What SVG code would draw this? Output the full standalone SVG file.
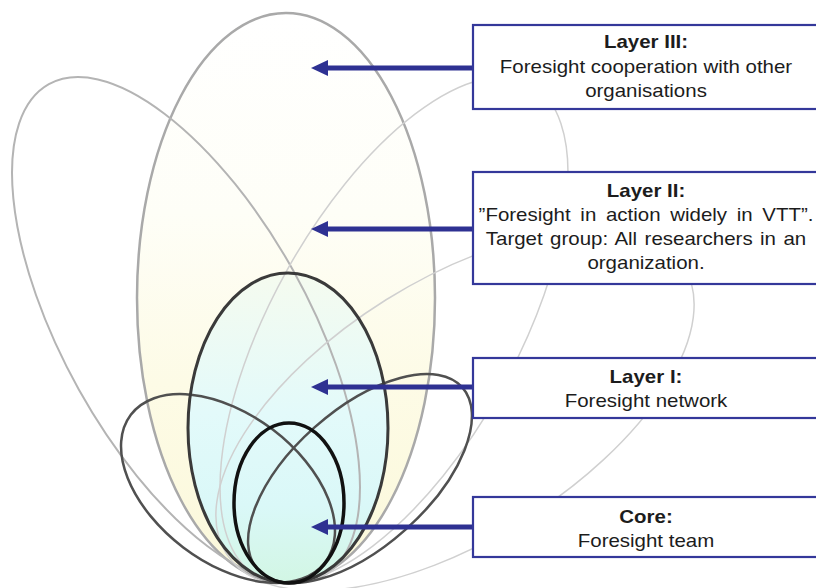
<svg xmlns="http://www.w3.org/2000/svg" width="816" height="588" viewBox="0 0 816 588">
<defs>
<linearGradient id="gIII" gradientUnits="userSpaceOnUse" x1="0" y1="13" x2="0" y2="583">
<stop offset="0" stop-color="#ffffff"/>
<stop offset="0.35" stop-color="#fefef7"/>
<stop offset="0.65" stop-color="#fdfbe6"/>
<stop offset="1" stop-color="#fbf8da"/>
</linearGradient>
<linearGradient id="gI" gradientUnits="userSpaceOnUse" x1="0" y1="273" x2="0" y2="583">
<stop offset="0" stop-color="#f5fbef"/>
<stop offset="0.45" stop-color="#e3fafa"/>
<stop offset="0.75" stop-color="#daf8f8"/>
<stop offset="1" stop-color="#d2f6e4"/>
</linearGradient>
<marker id="ah" markerUnits="userSpaceOnUse" markerWidth="18" markerHeight="16" refX="2" refY="8" orient="auto">
<path d="M0,0 L17,8 L0,16 Z" fill="#2e3192"/>
</marker>
</defs>
<style>
.big{fill:none;stroke:#a9a9a9;stroke-width:2.5}
.mid{fill:none;stroke:#b4b4b4;stroke-width:2}
.thin{fill:none;stroke:#d0d0d0;stroke-width:1.5}
.dark{fill:none;stroke:#3a3a3a;stroke-width:3}
.side{fill:none;stroke:#505050;stroke-width:2.5}
.core{fill:none;stroke:#111111;stroke-width:3.5}
.box{fill:#ffffff;stroke:#34389a;stroke-width:2.2}
.arrow{stroke:#2e3192;stroke-width:5;fill:none;marker-end:url(#ah)}
text{font-family:"Liberation Sans",Arial,sans-serif;font-size:17.5px;fill:#1c1c1c;text-anchor:middle}
.t{font-weight:bold}
</style>
<g id="petals">
<ellipse cx="286" cy="298" rx="149" ry="285" fill="url(#gIII)"/>
<ellipse cx="288" cy="428" rx="100" ry="155" fill="url(#gI)"/>
<ellipse class="big" cx="286" cy="298" rx="149" ry="285"/>
<ellipse class="mid" cx="186" cy="330" rx="122.6" ry="281.5" transform="rotate(-29.15 186 330)"/>
<ellipse class="thin" cx="394" cy="330" rx="122.6" ry="281.5" transform="rotate(29.15 394 330)"/>
<ellipse class="thin" cx="455" cy="410" rx="270" ry="130" transform="rotate(-32 455 410)"/>
<ellipse class="side" cx="228" cy="488.5" rx="122" ry="74" transform="rotate(37.2 228 488.5)"/>
<ellipse class="side" cx="360" cy="478.5" rx="137" ry="68.4" transform="rotate(-41.7 360 478.5)"/>
<ellipse class="dark" cx="288" cy="428" rx="100" ry="155"/>
<ellipse class="core" cx="289" cy="503" rx="55" ry="80"/>
</g>
<g id="connectors">
<line class="arrow" x1="474" y1="68" x2="326" y2="68"/>
<line class="arrow" x1="474" y1="229" x2="326" y2="229"/>
<line class="arrow" x1="474" y1="387" x2="326" y2="387"/>
<line class="arrow" x1="474" y1="527" x2="326" y2="527"/>
</g>
<g id="node-layer3">
<rect class="box" x="473" y="25" width="360" height="84"/>
<g transform="translate(646 0) scale(1.17 1)">
<text class="t" x="0" y="48">Layer III:</text>
<text x="0" y="73">Foresight cooperation with other</text>
<text x="0" y="97">organisations</text>
</g>
</g>
<g id="node-layer2">
<rect class="box" x="473" y="172" width="360" height="112"/>
<g transform="translate(646 0) scale(1.17 1)">
<text class="t" x="0" y="197">Layer II:</text>
<text x="0" y="221" style="word-spacing:3.4px">”Foresight in action widely in VTT”.</text>
<text x="0" y="245" style="word-spacing:1.5px">Target group: All researchers in an</text>
<text x="0" y="269">organization.</text>
</g>
</g>
<g id="node-layer1">
<rect class="box" x="473" y="358" width="360" height="60"/>
<g transform="translate(646 0) scale(1.17 1)">
<text class="t" x="0" y="383">Layer I:</text>
<text x="0" y="407">Foresight network</text>
</g>
</g>
<g id="node-core">
<rect class="box" x="473" y="497" width="360" height="60"/>
<g transform="translate(646 0) scale(1.17 1)">
<text class="t" x="0" y="523">Core:</text>
<text x="0" y="547">Foresight team</text>
</g>
</g>
</svg>
